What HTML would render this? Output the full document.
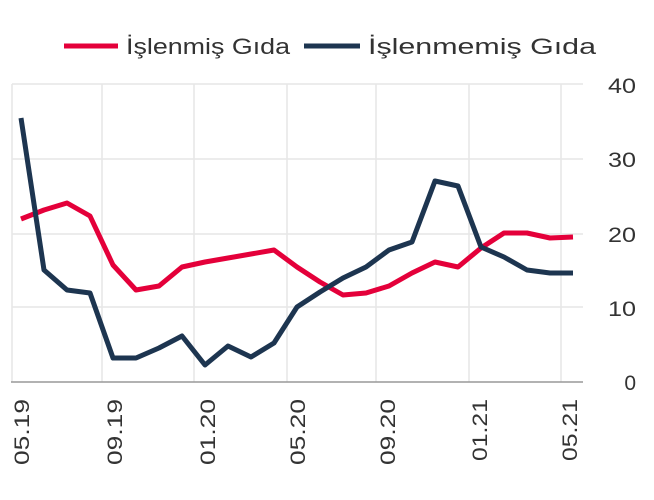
<!DOCTYPE html>
<html><head><meta charset="utf-8"><style>
html,body{margin:0;padding:0;background:#fff;}
svg{display:block;font-family:"Liberation Sans","DejaVu Sans",sans-serif;}
</style></head><body>
<svg width="654" height="500" viewBox="0 0 654 500">
<g stroke="#e6e6e6" stroke-width="1.5">
<line x1="12" y1="84" x2="583" y2="84"/>
<line x1="12" y1="159" x2="583" y2="159"/>
<line x1="12" y1="234" x2="583" y2="234"/>
<line x1="12" y1="307" x2="583" y2="307"/>
<line x1="12" y1="84" x2="12" y2="382"/>
<line x1="102" y1="84" x2="102" y2="382"/>
<line x1="194" y1="84" x2="194" y2="382"/>
<line x1="287" y1="84" x2="287" y2="382"/>
<line x1="376" y1="84" x2="376" y2="382"/>
<line x1="469" y1="84" x2="469" y2="382"/>
<line x1="561" y1="84" x2="561" y2="382"/>
</g>
<line x1="11" y1="382" x2="583" y2="382" stroke="#999" stroke-width="1.5"/>
<polyline fill="none" stroke="#e4003a" stroke-width="5" stroke-linejoin="round" points="21,219 44,210 67,203 90,216 113,265 136,290 159,286 182,267 205,262 228,258 251,254 274,250 297,267 320,282 343,295 366,293 389,286 412,273 435,262 458,267 481,248 504,233 527,233 550,238 573,237"/>
<polyline fill="none" stroke="#1d3550" stroke-width="5" stroke-linejoin="round" points="21,118 44,270 67,290 90,293 113,358 136,358 159,348 182,336 205,365 228,346 251,357 274,343 297,307 320,292 343,278 366,267 389,250 412,242 435,181 458,186 481,247 504,257 527,270 550,273 573,273"/>
<g font-size="21" fill="#333" text-anchor="end">
<text x="636" y="93" textLength="28" lengthAdjust="spacingAndGlyphs">40</text>
<text x="636" y="167" textLength="28" lengthAdjust="spacingAndGlyphs">30</text>
<text x="636" y="242" textLength="28" lengthAdjust="spacingAndGlyphs">20</text>
<text x="636" y="316" textLength="28" lengthAdjust="spacingAndGlyphs">10</text>
<text x="636" y="390">0</text>
</g>
<g font-size="21" fill="#333" text-anchor="end">
<text transform="translate(29,399) rotate(-90)" textLength="66" lengthAdjust="spacingAndGlyphs">05.19</text>
<text transform="translate(122,399) rotate(-90)" textLength="66" lengthAdjust="spacingAndGlyphs">09.19</text>
<text transform="translate(215,399) rotate(-90)" textLength="66" lengthAdjust="spacingAndGlyphs">01.20</text>
<text transform="translate(305,399) rotate(-90)" textLength="66" lengthAdjust="spacingAndGlyphs">05.20</text>
<text transform="translate(395,399) rotate(-90)" textLength="66" lengthAdjust="spacingAndGlyphs">09.20</text>
<text transform="translate(487,399) rotate(-90)" textLength="62" lengthAdjust="spacingAndGlyphs">01.21</text>
<text transform="translate(577,399) rotate(-90)" textLength="62" lengthAdjust="spacingAndGlyphs">05.21</text>
</g>
<line x1="64" y1="46" x2="118" y2="46" stroke="#e4003a" stroke-width="5"/>
<text x="126" y="54" font-size="22" fill="#333" textLength="164" lengthAdjust="spacingAndGlyphs">İşlenmiş Gıda</text>
<line x1="304" y1="46" x2="360" y2="46" stroke="#1d3550" stroke-width="5"/>
<text x="368" y="54" font-size="22" fill="#333" textLength="228" lengthAdjust="spacingAndGlyphs">İşlenmemiş Gıda</text>
</svg>
</body></html>
